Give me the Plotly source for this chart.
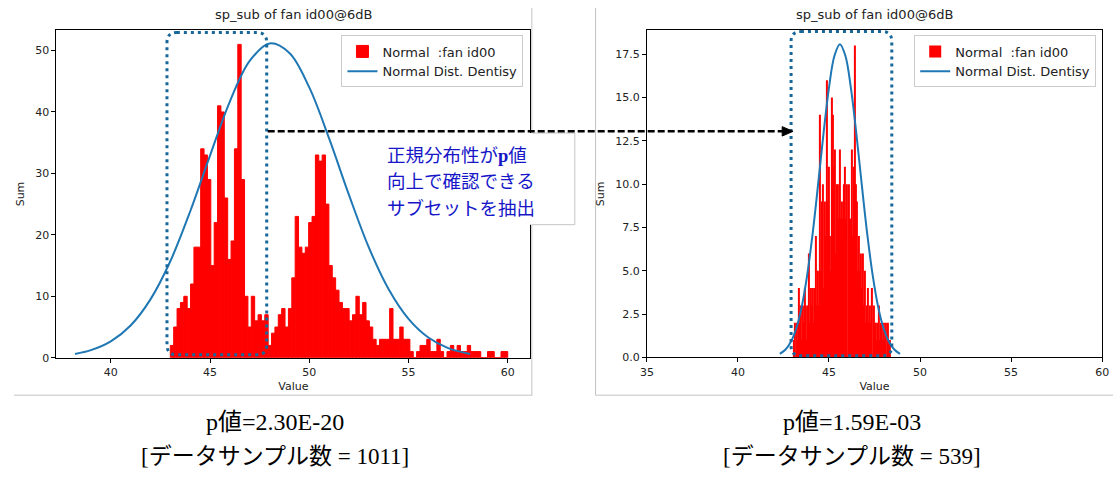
import numpy as np
import plotly.graph_objects as go

W, H = 1120, 482

# ---------------- data ----------------
chart_title = "sp_sub of fan id00@6dB"
hist_name = "Normal\u00a0 :fan id00"
curve_name = "Normal Dist. Dentisy"

# left: all samples (100 bins)
left_bin_start = 43.0
left_bin_width = 0.17
left_counts = [2, 5, 8, 9, 10, 8, 12, 18, 18, 34,
               33, 29, 15, 22, 41, 40, 26, 16, 19, 34,
               51, 29, 10, 5, 10, 6, 7, 6, 7, 2,
               4, 5, 7, 8, 5, 8, 13, 23, 18, 17,
               18, 22, 23, 33, 32, 33, 25, 15, 13, 11,
               9, 8, 8, 6, 7, 10, 7, 9, 6, 5,
               3, 2, 3, 3, 3, 8, 3, 3, 5, 3,
               3, 1, 0, 1, 2, 2, 3, 1, 1, 3,
               1, 0, 1, 2, 1, 2, 1, 1, 2, 1,
               1, 1, 0, 0, 1, 1, 0, 0, 1, 1]
left_curve_x = [38.2, 39, 40, 41, 42, 43, 44, 45, 46, 47, 48, 49, 50,
                51, 52, 53, 54, 55, 56, 57, 58.1]
left_curve_y = [0.62, 1.23, 2.66, 5.25, 9.50, 15.7, 23.8, 32.9, 41.7, 48.3,
                51.15, 49.6, 44.0, 35.7, 26.5, 17.96, 11.15, 6.33, 3.29, 1.57, 0.62]

# right: extracted subset (100 bins)
right_bin_start = 43.07
right_bin_width = 0.0528
right_counts = [1, 2, 0, 2, 1, 4, 2, 3, 1, 3,
                2, 4, 3, 1, 3, 6, 2, 4, 3, 4,
                2, 4, 7, 3, 5, 5, 3, 14, 5, 9,
                10, 4, 9, 7, 16, 9, 11, 7, 5, 15,
                14, 11, 12, 6, 10, 10, 8, 12, 8, 9,
                8, 7, 10, 11, 8, 10, 0, 10, 8, 8,
                12, 7, 11, 18, 10, 9, 5, 7, 5, 6,
                4, 6, 3, 5, 2, 3, 2, 4, 2, 3,
                2, 4, 0, 3, 2, 2, 1, 2, 3, 1,
                2, 2, 1, 2, 1, 2, 0, 2, 1, 1]
right_curve_x = [42.3, 42.6, 42.9, 43.2, 43.5, 43.8, 44.1, 44.4, 44.7, 45.0, 45.3,
                 45.6, 45.9, 46.2, 46.5, 46.8, 47.1, 47.4, 47.7, 48.0, 48.3, 48.6, 48.9]
right_curve_y = [0.20, 0.44, 0.89, 1.67, 2.92, 4.74, 7.13, 9.97, 12.93, 15.57, 17.41,
                 18.07, 17.41, 15.57, 12.93, 9.97, 7.13, 4.74, 2.92, 1.67, 0.89, 0.44, 0.20]

left_caption = ["p値=2.30E-20", "[データサンプル数 = 1011]"]
right_caption = ["p値=1.59E-03", "[データサンプル数 = 539]"]
callout_lines = ["正規分布性が<span style='font-family:Liberation Serif;font-weight:bold'>p</span>値",
                 "向上で確認できる",
                 "サブセットを抽出"]

# ---------------- helpers ----------------
def fx(px):
    return px / W


def fy(py):
    return 1 - py / H


def bin_centers(start, width, n):
    return start + width * (np.arange(n) + 0.5)


SANS = "DejaVu Sans"
TXT = "#222222"

fig = go.Figure()
fig.add_trace(go.Bar(x=bin_centers(left_bin_start, left_bin_width, len(left_counts)),
                     y=left_counts, width=left_bin_width,
                     marker=dict(color="#ff0000", line=dict(width=1, color="#ff0000")),
                     name=hist_name, xaxis="x", yaxis="y", legend="legend"))
fig.add_trace(go.Scatter(x=left_curve_x, y=left_curve_y, mode="lines",
                         line=dict(color="#1f77b4", width=2, shape="spline"),
                         name=curve_name, xaxis="x", yaxis="y", legend="legend"))
fig.add_trace(go.Bar(x=bin_centers(right_bin_start, right_bin_width, len(right_counts)),
                     y=right_counts, width=right_bin_width,
                     marker=dict(color="#ff0000", line=dict(width=0)),
                     name=hist_name, xaxis="x2", yaxis="y2", legend="legend2"))
fig.add_trace(go.Scatter(x=right_curve_x, y=right_curve_y, mode="lines",
                         line=dict(color="#1f77b4", width=2, shape="spline"),
                         name=curve_name, xaxis="x2", yaxis="y2", legend="legend2"))

ax_common = dict(showline=True, linecolor="black", linewidth=1, mirror=True,
                 ticks="outside", ticklen=4, tickwidth=1, tickcolor="black",
                 showgrid=False, zeroline=False,
                 tickfont=dict(family=SANS, size=11, color=TXT))
title_font = dict(family=SANS, size=11, color=TXT)

legend_common = dict(bgcolor="rgba(255,255,255,0.8)", bordercolor="#cccccc", borderwidth=1,
                     font=dict(family=SANS, size=13, color=TXT), itemwidth=30,
                     tracegroupgap=0, xanchor="right", yanchor="top")

fig.update_layout(
    width=W, height=H, margin=dict(l=0, r=0, t=0, b=0),
    paper_bgcolor="white", plot_bgcolor="white", barmode="overlay",
    xaxis=dict(domain=[fx(50), fx(530)], range=[37.26, 61.14], dtick=5, tick0=0, anchor="y",
               title=dict(text="Value", standoff=4, font=title_font), **ax_common),
    yaxis=dict(domain=[fy(363), fy(30.7)], range=[0, 53.3], dtick=10, tick0=0, anchor="x",
               title=dict(text="Sum", standoff=8, font=title_font), **ax_common),
    xaxis2=dict(domain=[fx(648), fx(1109)], range=[35, 60], dtick=5, tick0=0, anchor="y2",
                title=dict(text="Value", standoff=4, font=title_font), **ax_common),
    yaxis2=dict(domain=[fy(362.7), fy(30.7)], range=[0, 18.88], dtick=2.5, tick0=0,
                tickformat=".1f", anchor="x2",
                title=dict(text="Sum", standoff=8, font=title_font), **ax_common),
    legend=dict(x=fx(523), y=fy(36), **legend_common),
    legend2=dict(x=fx(1103), y=fy(36), **legend_common),
    showlegend=True,
)

# ---------------- decorations ----------------
GRAY = "#c4c4c4"
DOT = "#17679a"
shapes = []


def seg(x0, y0, x1, y1, color, width, dash=None):
    d = dict(type="line", xref="paper", yref="paper",
             x0=fx(x0), y0=fy(y0), x1=fx(x1), y1=fy(y1),
             line=dict(color=color, width=width))
    if dash:
        d["line"]["dash"] = dash
    return d


def rrect(x0, y0, x1, y1, r):
    pts = [("M", x0 + r, y0), ("L", x1 - r, y0), ("Q", x1, y0, x1, y0 + r),
           ("L", x1, y1 - r), ("Q", x1, y1, x1 - r, y1), ("L", x0 + r, y1),
           ("Q", x0, y1, x0, y1 - r), ("L", x0, y0 + r), ("Q", x0, y0, x0 + r, y0)]
    out = []
    for p in pts:
        cmd, coords = p[0], p[1:]
        s = " ".join(f"{fx(coords[i]):.5f},{fy(coords[i + 1]):.5f}" for i in range(0, len(coords), 2))
        out.append(f"{cmd} {s}")
    return " ".join(out) + " Z"


# screenshot frames
shapes.append(seg(531.5, 8, 531.5, 401, GRAY, 1))
shapes.append(seg(7, 401, 532, 401, GRAY, 1))
shapes.append(seg(596, 8, 596, 401, GRAY, 1))
shapes.append(seg(596, 401, 1120, 401, GRAY, 1))

# callout box
shapes.append(dict(type="rect", xref="paper", yref="paper", x0=fx(370), y0=fy(228),
                   x1=fx(575), y1=fy(135), fillcolor="white", line=dict(width=0)))
shapes.append(seg(531.5, 135, 575, 135, GRAY, 1))
shapes.append(seg(575, 135, 575, 228, GRAY, 1))
shapes.append(seg(531.5, 228, 575, 228, GRAY, 1))

# dotted rounded selection boxes
for (x0, y0, x1, y1) in [(162, 33, 263, 360), (794, 32, 896, 361)]:
    shapes.append(dict(type="path", xref="paper", yref="paper", path=rrect(x0, y0, x1, y1, 10),
                       line=dict(color=DOT, width=3, dash="3px,4px")))

# dashed arrow
shapes.append(seg(264, 133.3, 786, 133.3, "black", 2.5, dash="7px,3px"))
shapes.append(dict(type="path", xref="paper", yref="paper",
                   path=f"M {fx(785):.5f},{fy(128.5):.5f} L {fx(796):.5f},{fy(133.3):.5f} "
                        f"L {fx(785):.5f},{fy(138.1):.5f} Z",
                   fillcolor="black", line=dict(color="black", width=1)))

annotations = []
for cx in [290, 878.5]:
    annotations.append(dict(text=chart_title, xref="paper", yref="paper", x=fx(cx), y=fy(15),
                            xanchor="center", yanchor="middle", showarrow=False,
                            font=dict(family=SANS, size=13, color=TXT)))

for i, line in enumerate(callout_lines):
    annotations.append(dict(text=line, xref="paper", yref="paper",
                            x=fx(383), y=fy(156 + 27 * i), xanchor="left", yanchor="middle",
                            showarrow=False,
                            font=dict(family="Noto Sans CJK JP", size=18.5, color="#1616c8")))

CAP = "Liberation Serif, Noto Sans CJK JP"
for cx, lines in [(271, left_caption), (856, right_caption)]:
    annotations.append(dict(text=lines[0], xref="paper", yref="paper", x=fx(cx), y=fy(428),
                            xanchor="center", yanchor="middle", showarrow=False,
                            font=dict(family=CAP, size=24, color="black")))
    annotations.append(dict(text=lines[1], xref="paper", yref="paper", x=fx(cx), y=fy(463),
                            xanchor="center", yanchor="middle", showarrow=False,
                            font=dict(family=CAP, size=23, color="black")))

fig.update_layout(shapes=shapes, annotations=annotations)
fig.write_html("out.html")
